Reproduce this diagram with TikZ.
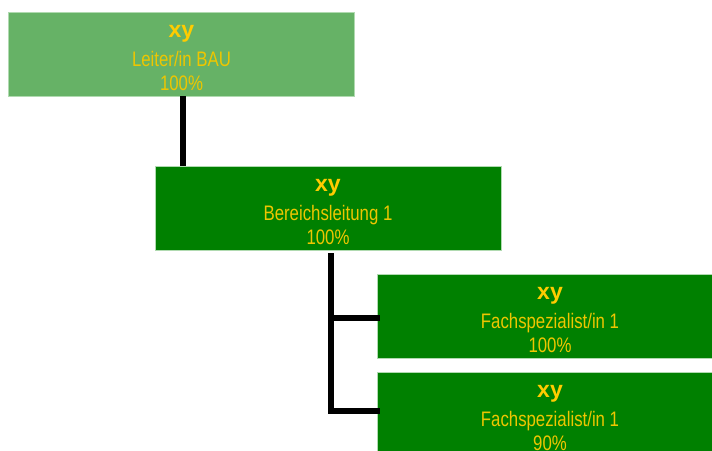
\documentclass[tikz,border=0pt]{standalone}
\usepackage{fontspec}
\setmainfont{Liberation Sans}
\newfontfamily\narrowf[FakeStretch=0.8]{Liberation Sans}
\definecolor{lightg}{HTML}{66B266}
\definecolor{darkg}{HTML}{008000}
\definecolor{gold}{HTML}{FFCC00}
\definecolor{goldtext}{HTML}{EEC600}
\definecolor{edge}{HTML}{B0DAB0}
\tikzset{
  orgbox/.style={rectangle, draw=edge, line width=0.8pt, minimum width=346pt, minimum height=84pt,
    inner sep=0pt, align=center, text=goldtext, font=\narrowf\fontsize{21}{24}\selectfont},
  conn/.style={draw=black, line width=6pt, line cap=rect, line join=miter}
}
\newcommand{\bxy}{{\color{gold}\rule{0pt}{20pt}\fontsize{23}{24}\fontspec{Liberation Sans}\bfseries xy}}
\begin{document}
\begin{tikzpicture}[x=1pt,y=-1pt]
\useasboundingbox (0,0) rectangle (712,450);
\clip (0,0) rectangle (712,450);
\node[orgbox, fill=lightg] (b1) at (181.5,54) {\bxy\\[5pt]Leiter/in BAU\\100\%};
\node[orgbox, fill=darkg] (b2) at (328,208) {\bxy\\[5pt]Bereichsleitung 1\\100\%};
\node[orgbox, fill=darkg] (b3) at (550,316.5) {\bxy\\[5pt]Fachspezialist/in 1\\100\%};
\node[orgbox, fill=darkg] (b4) at (550,414) {\bxy\\[5pt]Fachspezialist/in 1\\90\%};
\draw[conn] ([xshift=1.5pt,yshift=-3pt]b1.south) -- ([xshift=1.5pt,yshift=3pt]b1.south |- b2.north);
\draw[conn] ([xshift=3pt,yshift=-6pt]b2.south) |- ([yshift=-1.5pt]b3.west);
\draw[conn] ([xshift=3pt,yshift=-6pt]b2.south) |- ([yshift=3pt]b4.west);
\end{tikzpicture}
\end{document}
